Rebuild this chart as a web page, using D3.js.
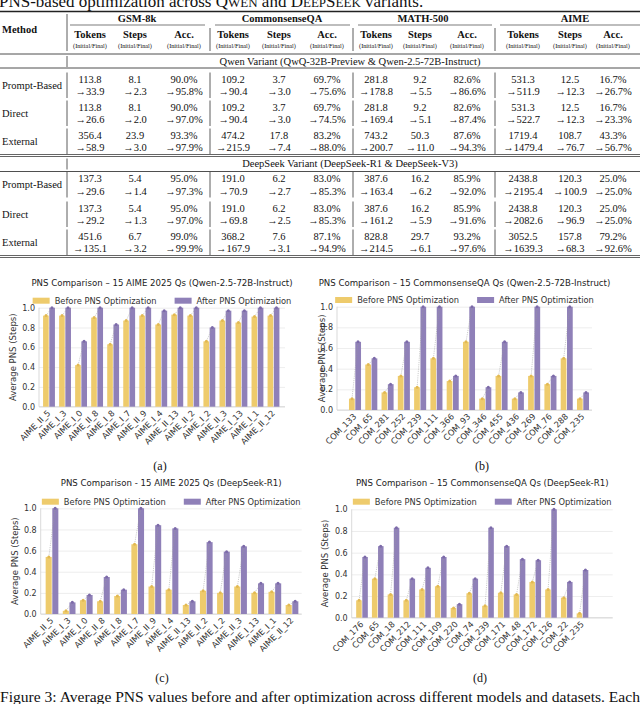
<!DOCTYPE html>
<html>
<head>
<meta charset="utf-8">
<script src="https://cdn.jsdelivr.net/npm/d3@7"></script>
<style>
  body { margin: 0; background: #fff; }
</style>
</head>
<body>
<svg id="fig" width="640" height="704"></svg>
<script>
// ---- TABLE DATA ----
const datasets = ["GSM-8k", "CommonsenseQA", "MATH-500", "AIME"];
const metrics = ["Tokens", "Steps", "Acc."];
const methods = ["Prompt-Based", "Direct", "External"];

// 12 columns per row: [tokens, steps, acc] x 4 datasets
const qwenInitial = [
  [113.8, 8.1, 90.0, 109.2, 3.7, 69.7, 281.8, 9.2, 82.6, 531.3, 12.5, 16.7],
  [113.8, 8.1, 90.0, 109.2, 3.7, 69.7, 281.8, 9.2, 82.6, 531.3, 12.5, 16.7],
  [356.4, 23.9, 93.3, 474.2, 17.8, 83.2, 743.2, 50.3, 87.6, 1719.4, 108.7, 43.3]
];
const qwenFinal = [
  [33.9, 2.3, 95.8, 90.4, 3.0, 75.6, 178.8, 5.5, 86.6, 511.9, 12.3, 26.7],
  [26.6, 2.0, 97.0, 90.4, 3.0, 74.5, 169.4, 5.1, 87.4, 522.7, 12.3, 23.3],
  [58.9, 3.0, 97.9, 215.9, 7.4, 88.0, 200.7, 11.0, 94.3, 1479.4, 76.7, 56.7]
];
const deepseekInitial = [
  [137.3, 5.4, 95.0, 191.0, 6.2, 83.0, 387.6, 16.2, 85.9, 2438.8, 120.3, 25.0],
  [137.3, 5.4, 95.0, 191.0, 6.2, 83.0, 387.6, 16.2, 85.9, 2438.8, 120.3, 25.0],
  [451.6, 6.7, 99.0, 368.2, 7.6, 87.1, 828.8, 29.7, 93.2, 3052.5, 157.8, 79.2]
];
const deepseekFinal = [
  [29.6, 1.4, 97.3, 70.9, 2.7, 85.3, 163.4, 6.2, 92.0, 2195.4, 100.9, 25.0],
  [29.2, 1.3, 97.0, 69.8, 2.5, 85.3, 161.2, 5.9, 91.6, 2082.6, 96.9, 25.0],
  [135.1, 3.2, 99.9, 167.9, 3.1, 94.9, 214.5, 6.1, 97.6, 1639.3, 68.3, 92.6]
];

// ---- CHART DATA ----
const aimeQwenCats = ["AIME_II_5", "AIME_I_3", "AIME_I_0", "AIME_II_8", "AIME_I_8", "AIME_I_7", "AIME_II_9", "AIME_I_4",
  "AIME_II_13", "AIME_II_2", "AIME_I_2", "AIME_II_3", "AIME_I_13", "AIME_I_1", "AIME_II_12"];
const aimeQwenBefore = [0.92, 0.92, 0.42, 0.90, 0.63, 0.87, 0.92, 0.83, 0.93, 0.92, 0.66, 0.87, 0.85, 0.91, 0.92];
const aimeQwenAfter = [1.0, 1.0, 0.66, 1.0, 0.83, 1.0, 1.0, 0.97, 1.0, 1.0, 0.80, 0.97, 0.97, 1.0, 1.0];

const csqaQwenCats = ["COM_133", "COM_65", "COM_281", "COM_252", "COM_239", "COM_111", "COM_366", "COM_93",
  "COM_346", "COM_455", "COM_436", "COM_269", "COM_76", "COM_288", "COM_235"];
const csqaQwenBefore = [0.11, 0.44, 0.17, 0.33, 0.22, 0.50, 0.28, 0.66, 0.11, 0.33, 0.11, 0.33, 0.25, 0.50, 0.11];
const csqaQwenAfter = [0.66, 0.50, 0.25, 0.66, 1.0, 1.0, 0.33, 1.0, 0.22, 0.66, 0.17, 1.0, 0.33, 1.0, 0.17];

const aimeDsCats = ["AIME_II_5", "AIME_I_3", "AIME_I_0", "AIME_II_8", "AIME_I_8", "AIME_I_7", "AIME_II_9", "AIME_I_4",
  "AIME_II_13", "AIME_II_2", "AIME_I_2", "AIME_II_3", "AIME_I_13", "AIME_I_1", "AIME_II_12"];
const aimeDsBefore = [0.54, 0.03, 0.13, 0.12, 0.17, 0.66, 0.26, 0.23, 0.085, 0.22, 0.20, 0.26, 0.20, 0.21, 0.085];
const aimeDsAfter = [1.0, 0.11, 0.18, 0.35, 0.23, 1.0, 0.84, 0.81, 0.12, 0.68, 0.59, 0.64, 0.29, 0.29, 0.12];

const csqaDsCats = ["COM_176", "COM_65", "COM_18", "COM_212", "COM_111", "COM_109", "COM_220", "COM_74",
  "COM_239", "COM_171", "COM_48", "COM_172", "COM_126", "COM_22", "COM_235"];
const csqaDsBefore = [0.16, 0.36, 0.215, 0.16, 0.26, 0.29, 0.09, 0.225, 0.11, 0.23, 0.215, 0.33, 0.26, 0.185, 0.04];
const csqaDsAfter = [0.56, 0.66, 0.83, 0.36, 0.46, 0.56, 0.125, 0.36, 0.83, 0.66, 0.54, 0.53, 1.0, 0.33, 0.44];

const yTicks = [0.0, 0.2, 0.4, 0.6, 0.8, 1.0];
const seriesNames = ["Before PNS Optimization", "After PNS Optimization"];

// ---- STYLE ----
const SERIF = "'Liberation Serif', 'Times New Roman', serif";
const SANS = "'DejaVu Sans', sans-serif";
const colBefore = "#eecb6c";
const colAfter = "#8f80b8";
const dotBefore = "#e2b952";
const dotAfter = "#7c6aa9";

const svg = d3.select("#fig");

// ---- TOP TITLE (cut off) ----
const head = svg.append("text")
  .attr("x", -1).attr("y", 6.5)
  .attr("font-family", SERIF).attr("font-size", 17).attr("fill", "#111");
[["PNS-based optimization across Q", 17], ["WEN", 13], [" and D", 17], ["EEP", 13], ["S", 17], ["EEK", 13], [" variants.", 17]]
  .forEach(p => head.append("tspan").attr("font-size", p[1]).text(p[0]));

// ---- TABLE ----
const T = svg.append("g").attr("font-family", SERIF).attr("fill", "#111");
const colX = [90, 135, 184, 233, 279, 327, 376, 420, 467, 523, 570, 613];
const groupX = [137, 282, 423, 575];
const cmid = [[70, 205], [215, 350], [358, 492], [500, 640]];
const sepX = [210, 353, 495];

function hline(y, x1, x2, w) {
  T.append("line").attr("x1", x1).attr("x2", x2).attr("y1", y).attr("y2", y)
    .attr("stroke", "#222").attr("stroke-width", w);
}
function vseg(x, y1, y2) {
  T.append("line").attr("x1", x).attr("x2", x).attr("y1", y1).attr("y2", y2)
    .attr("stroke", "#333").attr("stroke-width", 0.8);
}

hline(11.5, 0, 640, 1.3);
cmid.forEach(c => hline(25, c[0], c[1], 0.6));
hline(54, 0, 640, 0.8);
hline(68, 0, 640, 0.8);
hline(154.5, 0, 640, 0.7);
hline(156.5, 0, 640, 0.7);
hline(171.5, 0, 640, 0.8);
hline(255.5, 0, 640, 0.7);
hline(257.5, 0, 640, 0.7);

// header
T.append("text").attr("x", 2).attr("y", 29).attr("dy", "0.35em")
  .attr("font-weight", "bold").attr("font-size", 10.5).text("Method");
vseg(67, 14, 51);
datasets.forEach((d, i) => {
  T.append("text").attr("x", groupX[i]).attr("y", 18).attr("dy", "0.35em")
    .attr("text-anchor", "middle").attr("font-weight", "bold").attr("font-size", 10.5).text(d);
  metrics.forEach((m, j) => {
    const cx = colX[i * 3 + j];
    T.append("text").attr("x", cx).attr("y", 34.5).attr("dy", "0.35em")
      .attr("text-anchor", "middle").attr("font-weight", "bold").attr("font-size", 10.5).text(m);
    T.append("text").attr("x", cx).attr("y", 46).attr("dy", "0.35em")
      .attr("text-anchor", "middle").attr("font-size", 6.3).text("(Initial/Final)");
  });
});
sepX.forEach(x => vseg(x, 28, 51));

function fmt(v, k) {
  return v.toFixed(1) + (k % 3 === 2 ? "%" : "");
}

function block(label, labelY, initial, final, rowY) {
  T.append("text").attr("x", 350).attr("y", labelY).attr("dy", "0.35em")
    .attr("text-anchor", "middle").attr("font-size", 10.5).text(label);
  vseg(67, labelY - 5, labelY + 6);
  methods.forEach((m, r) => {
    const y1 = rowY[r], y2 = rowY[r] + 12.5;
    T.append("text").attr("x", 2).attr("y", (y1 + y2) / 2).attr("dy", "0.35em")
      .attr("font-size", 10.5).text(m);
    [67].concat(sepX).forEach(x => vseg(x, y1 - 6.5, y2 + 6.5));
    initial[r].forEach((v, k) => {
      T.append("text").attr("x", colX[k]).attr("y", y1).attr("dy", "0.35em")
        .attr("text-anchor", "middle").attr("font-size", 10.5).text(fmt(v, k));
      T.append("text").attr("x", colX[k]).attr("y", y2).attr("dy", "0.35em")
        .attr("text-anchor", "middle").attr("font-size", 10.5).text("\u2192" + fmt(final[r][k], k));
    });
  });
}
block("Qwen Variant (QwQ-32B-Preview & Qwen-2.5-72B-Instruct)", 61, qwenInitial, qwenFinal, [79, 107, 135]);
block("DeepSeek Variant (DeepSeek-R1 & DeepSeek-V3)", 163.5, deepseekInitial, deepseekFinal, [178.5, 208, 236]);

// ---- BAR CHARTS ----
function drawChart(o) {
  const g = svg.append("g").attr("font-family", SANS);
  const x = d3.scalePoint().domain(o.cats).range([o.c0, o.c1]);
  const y = d3.scaleLinear().domain([0, 1]).range([o.y0, o.y1]);
  const step = x.step();
  const bw = step * 0.37;
  const w = o.right - o.left;

  // grid + y ticks
  const ya = g.append("g").attr("transform", `translate(${o.left},0)`)
    .call(d3.axisLeft(y).tickValues(yTicks).tickFormat(d3.format(".1f")).tickSize(-w).tickPadding(4));
  ya.select(".domain").remove();
  ya.selectAll(".tick line").attr("stroke", "#e8e8e8").attr("stroke-width", 0.8);
  ya.selectAll(".tick text").attr("font-family", SANS).attr("font-size", 8).attr("fill", "#333");

  // spines
  g.append("line").attr("x1", o.left).attr("x2", o.left).attr("y1", o.y0).attr("y2", o.y1)
    .attr("stroke", "#cfcfcf").attr("stroke-width", 0.8);
  g.append("line").attr("x1", o.left).attr("x2", o.right).attr("y1", o.y0).attr("y2", o.y0)
    .attr("stroke", "#cfcfcf").attr("stroke-width", 0.8);

  const rows = o.cats.map((c, i) => ({ c, b: o.before[i], a: o.after[i] }));

  g.selectAll(".bb").data(rows).join("rect")
    .attr("x", d => x(d.c) - bw).attr("width", bw - 0.3)
    .attr("y", d => y(d.b)).attr("height", d => o.y0 - y(d.b))
    .attr("fill", colBefore);
  g.selectAll(".ba").data(rows).join("rect")
    .attr("x", d => x(d.c) + 0.3).attr("width", bw - 0.3)
    .attr("y", d => y(d.a)).attr("height", d => o.y0 - y(d.a))
    .attr("fill", colAfter);

  g.selectAll(".conn").data(rows).join("line")
    .attr("x1", d => x(d.c) - bw / 2).attr("y1", d => y(d.b))
    .attr("x2", d => x(d.c) + bw / 2).attr("y2", d => y(d.a))
    .attr("stroke", "#9a9a9a").attr("stroke-width", 0.5).attr("stroke-dasharray", "1.2,1");
  g.selectAll(".mb").data(rows).join("circle")
    .attr("cx", d => x(d.c) - bw / 2).attr("cy", d => y(d.b)).attr("r", 1.5).attr("fill", dotBefore);
  g.selectAll(".ma").data(rows).join("circle")
    .attr("cx", d => x(d.c) + bw / 2).attr("cy", d => y(d.a)).attr("r", 1.5).attr("fill", dotAfter);

  // x labels
  const xa = g.append("g").attr("transform", `translate(0,${o.y0})`)
    .call(d3.axisBottom(x).tickSize(0));
  xa.select(".domain").remove();
  xa.selectAll(".tick text")
    .attr("font-family", SANS).attr("font-size", 8.3).attr("fill", "#333")
    .attr("x", 0).attr("y", 0).attr("dy", 0)
    .attr("text-anchor", "end")
    .attr("transform", "translate(1.5,7) rotate(-45)");

  // y label
  g.append("text")
    .attr("transform", `translate(${o.ylabX},${(o.y0 + o.y1) / 2}) rotate(-90)`)
    .attr("text-anchor", "middle").attr("font-size", 8.5).attr("fill", "#333")
    .text("Average PNS (Steps)");

  const cx = (o.left + o.right) / 2;
  g.append("text").attr("x", cx).attr("y", o.titleY).attr("text-anchor", "middle")
    .attr("font-size", 8.6).attr("fill", "#222").text(o.title);

  // legend centred on axes
  const lg = g.append("g");
  const items = [[seriesNames[0], colBefore], [seriesNames[1], colAfter]];
  const texts = items.map(it => lg.append("text").attr("font-size", 8.3).attr("fill", "#333").text(it[0]));
  const tw = texts.map(t => t.node().getComputedTextLength());
  const total = 17 + 5 + tw[0] + 18 + 17 + 5 + tw[1];
  let lx = cx - total / 2;
  items.forEach((it, i) => {
    lg.append("rect").attr("x", lx).attr("y", o.legY - 3).attr("width", 17).attr("height", 6).attr("fill", it[1]);
    texts[i].attr("x", lx + 22).attr("y", o.legY).attr("dy", "0.35em");
    lx += 22 + tw[i] + 18;
  });

  svg.append("text").attr("x", o.capX).attr("y", o.capY).attr("text-anchor", "middle")
    .attr("font-family", SERIF).attr("font-size", 12).attr("fill", "#111").text(o.cap);
}

drawChart({
  title: "PNS Comparison \u2013 15 AIME 2025 Qs (Qwen-2.5-72B-Instruct)", titleY: 286,
  cats: aimeQwenCats, before: aimeQwenBefore, after: aimeQwenAfter,
  left: 39, right: 285, c0: 49, c1: 273.5, y0: 406.7, y1: 307.7,
  legY: 300.7, ylabX: 16, cap: "(a)", capX: 160, capY: 470
});
drawChart({
  title: "PNS Comparison \u2013 15 CommonsenseQA Qs (Qwen-2.5-72B-Instruct)", titleY: 286,
  cats: csqaQwenCats, before: csqaQwenBefore, after: csqaQwenAfter,
  left: 337, right: 592, c0: 355, c1: 583, y0: 410, y1: 306.7,
  legY: 300, ylabX: 325, cap: "(b)", capX: 482, capY: 470
});
drawChart({
  title: "PNS Comparison - 15 AIME 2025 Qs (DeepSeek-R1)", titleY: 486,
  cats: aimeDsCats, before: aimeDsBefore, after: aimeDsAfter,
  left: 40.7, right: 301.7, c0: 52, c1: 292, y0: 614, y1: 508.3,
  legY: 501.7, ylabX: 18, cap: "(c)", capX: 162, capY: 682
});
drawChart({
  title: "PNS Comparison \u2013 15 CommonsenseQA Qs (DeepSeek-R1)", titleY: 486,
  cats: csqaDsCats, before: csqaDsBefore, after: csqaDsAfter,
  left: 351.7, right: 612.7, c0: 362, c1: 582.5, y0: 617.7, y1: 509.3,
  legY: 501.7, ylabX: 328, cap: "(d)", capX: 480, capY: 682
});

// ---- FIGURE CAPTION (cut off) ----
svg.append("text").attr("x", 0).attr("y", 702)
  .attr("font-family", SERIF).attr("font-size", 15).attr("fill", "#111")
  .attr("textLength", 640).attr("lengthAdjust", "spacingAndGlyphs")
  .text("Figure 3: Average PNS values before and after optimization across different models and datasets. Each");
</script>
</body>
</html>
